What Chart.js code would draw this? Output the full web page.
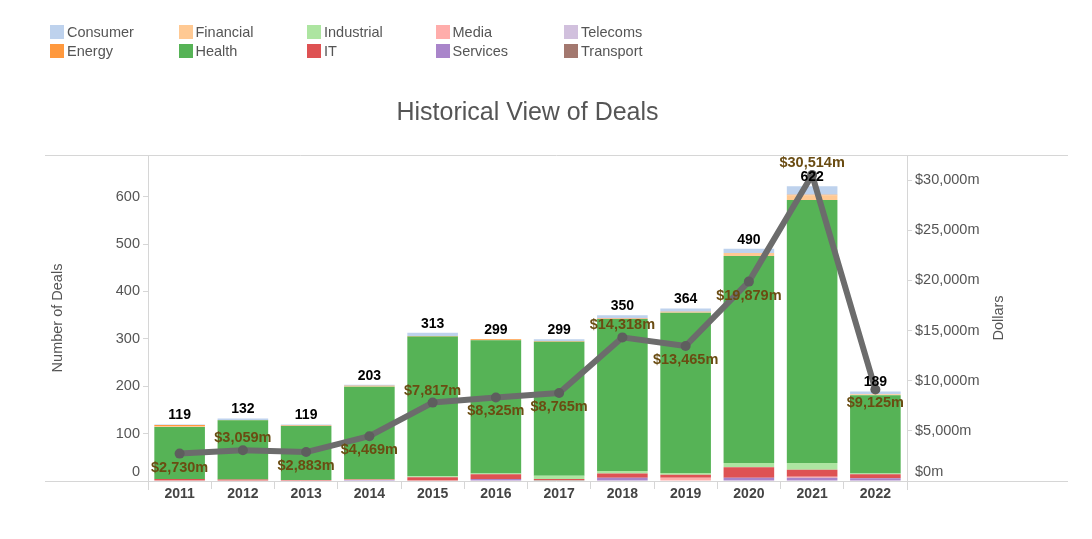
<!DOCTYPE html>
<html>
<head>
<meta charset="utf-8">
<script src="https://cdn.jsdelivr.net/npm/chart.js@4/dist/chart.umd.min.js"></script>
<style>
  html, body { margin: 0; padding: 0; background: #fff; }
  #wrap { position: relative; width: 1092px; height: 539px; }
  #chart { position: absolute; left: 0; top: 0; }
  #legend {
    position: absolute; left: 50px; top: 22px;
    display: grid; grid-template-rows: 19px 19px; grid-auto-flow: column;
    grid-auto-columns: 128.5px;
    font-family: Arial, "Liberation Sans", sans-serif; font-size: 14.5px; color: #555;
  }
  .item { display: flex; align-items: center; white-space: nowrap; }
  .sw { width: 14px; height: 14px; margin-right: 3px; flex: none; }
</style>
</head>
<body>
<div id="wrap">
  <canvas id="chart" width="1092" height="539"></canvas>
  <div id="legend"></div>
</div>
<script>
// ---- data ----
const years = ['2011','2012','2013','2014','2015','2016','2017','2018','2019','2020','2021','2022'];
const dealTotals = [119, 132, 119, 203, 313, 299, 299, 350, 364, 490, 622, 189];
const dollars = [2730, 3059, 2883, 4469, 7817, 8325, 8765, 14318, 13465, 19879, 30514, 9125];

const transport  = [1, 1, 0, 0, 0, 0, 2, 0, 0, 0, 0, 0];
const telecoms   = [0, 0, 0, 0, 0, 0, 0, 0, 0, 0, 0, 0];
const services   = [0, 0, 0, 2, 0, 4, 0, 7, 0, 7, 7, 6];
const media      = [0, 0, 0, 0, 0, 0, 0, 0, 7, 0, 2, 0];
const itDeals    = [3, 2, 2, 1, 8, 10, 2, 9, 6, 22, 15, 8];
const industrial = [0, 0, 0, 1, 2, 2, 7, 5, 4, 9, 14, 2];
const health     = [110, 125, 114, 195, 295, 281, 283, 321, 338, 437, 555, 165];
const financial  = [1, 0, 0, 1, 0, 0, 0, 0, 1, 6, 10, 2];
const energy     = [3, 1, 1, 1, 1, 2, 1, 1, 1, 0, 1, 0];
const consumer   = [1, 3, 2, 2, 7, 0, 4, 7, 7, 9, 18, 6];

const dealTicks = [0, 100, 200, 300, 400, 500, 600];
const dollarTicks = [0, 5000, 10000, 15000, 20000, 25000, 30000];
const dealAxisMax = 688;
const dollarAxisMax = 32500;

// ---- styles ----
const sectorColors = {
  Consumer: '#bed2ed', Energy: '#ff993e', Financial: '#ffc993', Health: '#56b356',
  Industrial: '#ade5a1', IT: '#de5253', Media: '#ffadab', Services: '#a985ca',
  Telecoms: '#d1c0dd', Transport: '#a3786f'
};
const dollarLabelPlacement = ['below','above','below','below','above','below','below','above','below','below','above','below'];

// stacking order bottom -> top
const stackSeries = [
  ['Transport', transport], ['Telecoms', telecoms], ['Services', services], ['Media', media],
  ['IT', itDeals], ['Industrial', industrial], ['Health', health], ['Financial', financial],
  ['Energy', energy], ['Consumer', consumer]
];

// legend (alphabetical, column-major)
const legendEl = document.getElementById('legend');
['Consumer','Energy','Financial','Health','Industrial','IT','Media','Services','Telecoms','Transport'].forEach(n => {
  const d = document.createElement('div'); d.className = 'item';
  const s = document.createElement('span'); s.className = 'sw'; s.style.background = sectorColors[n];
  const t = document.createElement('span'); t.textContent = n;
  d.appendChild(s); d.appendChild(t); legendEl.appendChild(d);
});

const FONT = 'Arial, "Liberation Sans", sans-serif';
const fmtDollar = v => '$' + Number(v).toLocaleString('en-US') + 'm';

const datasets = [{
  type: 'line', label: 'Dollars', data: dollars, yAxisID: 'y1', order: 0,
  borderColor: '#6c6c6c', borderWidth: 6, borderJoinStyle: 'round', borderCapStyle: 'round',
  pointRadius: 5, pointBackgroundColor: '#5e5e5e', pointBorderWidth: 0, tension: 0
}].concat(stackSeries.map(([name, vals]) => ({
  type: 'bar', label: name, data: vals, yAxisID: 'y', order: 1,
  backgroundColor: sectorColors[name], borderWidth: 0,
  barPercentage: 0.8, categoryPercentage: 1.0
})));

const framePlugin = {
  id: 'frame',
  beforeDatasetsDraw(chart) {
    const {ctx, chartArea: a} = chart;
    ctx.save();
    ctx.strokeStyle = '#d6d6d6'; ctx.lineWidth = 1;
    ctx.beginPath();
    ctx.moveTo(45, a.top + 0.5); ctx.lineTo(1068, a.top + 0.5);
    ctx.moveTo(45, a.bottom + 0.5); ctx.lineTo(1068, a.bottom + 0.5);
    ctx.moveTo(Math.round(a.left) + 0.5, a.top); ctx.lineTo(Math.round(a.left) + 0.5, a.bottom + 9);
    ctx.moveTo(Math.round(a.right) + 0.5, a.top); ctx.lineTo(Math.round(a.right) + 0.5, a.bottom + 9);
    ctx.stroke();
    ctx.restore();
  },
  afterDraw(chart) {
    const {ctx, chartArea: a} = chart;
    ctx.save();
    ctx.font = '14.5px ' + FONT; ctx.fillStyle = '#555';
    ctx.textAlign = 'center'; ctx.textBaseline = 'middle';
    ctx.translate(chart.scales.y1.right - 93, (a.top + a.bottom) / 2);
    ctx.rotate(-Math.PI / 2);
    ctx.fillText('Dollars', 0, 0);
    ctx.restore();
  }
};

const labelPlugin = {
  id: 'valueLabels',
  afterDatasetsDraw(chart) {
    const {ctx} = chart;
    const topMeta = chart.getDatasetMeta(chart.data.datasets.length - 1);
    const lineMeta = chart.getDatasetMeta(0);
    ctx.save();
    ctx.textAlign = 'center'; ctx.textBaseline = 'middle';
    ctx.font = 'bold 14px ' + FONT; ctx.fillStyle = '#000';
    topMeta.data.forEach((el, i) => {
      ctx.fillText(String(dealTotals[i]), el.x, el.y - 9);
    });
    ctx.font = 'bold 14.5px ' + FONT; ctx.fillStyle = '#6a4c12';
    lineMeta.data.forEach((pt, i) => {
      const dy = dollarLabelPlacement[i] === 'above' ? -12 : 14;
      ctx.fillText(fmtDollar(dollars[i]), pt.x, pt.y + dy);
    });
    ctx.restore();
  }
};

new Chart(document.getElementById('chart'), {
  data: { labels: years, datasets },
  options: {
    responsive: false, animation: false, devicePixelRatio: 1,
    layout: { padding: 0 },
    plugins: {
      legend: { display: false }, tooltip: { enabled: false },
      title: {
        display: true, text: 'Historical View of Deals', fullSize: false,
        color: '#555', font: { family: FONT, size: 25, weight: 'normal' },
        padding: { top: 98, bottom: 27 }
      }
    },
    scales: {
      x: {
        stacked: true, offset: true,
        grid: { display: true, drawOnChartArea: false, offset: true, color: '#d6d6d6', tickLength: 8 },
        border: { display: false },
        ticks: { color: '#444', font: { family: FONT, size: 14, weight: 'bold' }, padding: -3, maxRotation: 0 },
        afterFit(s) { s.height = 58; }
      },
      y: {
        stacked: true, position: 'left', min: 0, max: dealAxisMax,
        grid: { display: true, drawOnChartArea: false, color: '#d6d6d6', tickLength: 5 },
        border: { display: false },
        ticks: {
          padding: 3, color: '#555', font: { family: FONT, size: 14.5 },
          callback: v => v === 0 ? ['0', ''] : String(v)
        },
        afterBuildTicks(s) { s.ticks = dealTicks.map(v => ({ value: v })); },
        title: { display: true, text: 'Number of Deals', color: '#555', font: { family: FONT, size: 14.5 }, padding: { top: 49, bottom: 0 } },
        afterFit(s) { s.width = 148; }
      },
      y1: {
        position: 'right', min: 0, max: dollarAxisMax,
        grid: { display: true, drawOnChartArea: false, color: '#d6d6d6', tickLength: 5 },
        border: { display: false },
        ticks: {
          padding: 3, color: '#555', font: { family: FONT, size: 14.5 },
          callback: v => v === 0 ? [fmtDollar(0), ''] : fmtDollar(v)
        },
        afterBuildTicks(s) { s.ticks = dollarTicks.map(v => ({ value: v })); },
        afterFit(s) { s.width = 185; }
      }
    }
  },
  plugins: [framePlugin, labelPlugin]
});
</script>
</body>
</html>
